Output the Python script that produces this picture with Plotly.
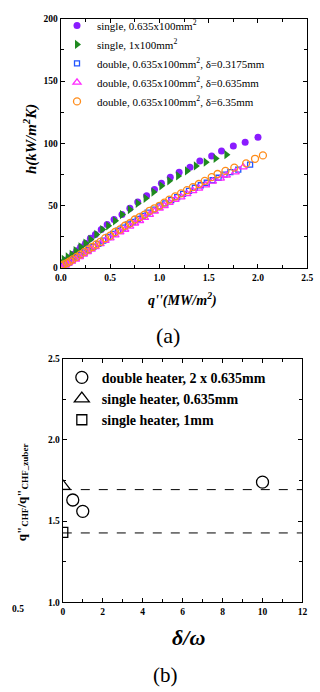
import plotly.graph_objects as go

# ---------------- (a) data ----------------
q_single_0635 = [0.02,0.05,0.08,0.12,0.16,0.20,0.25,0.30,0.35,0.41,0.47,0.54,0.62,0.70,0.78,0.87,0.95,1.02,1.11,1.20,1.31,1.41,1.53,1.63,1.75,1.87,2.00]
h_single_0635 = [4,6,8,11,14,17,20,24,27,31,35,39,43,48,53,58,63,68,73,77,81,86,90,94,98,101,105]

q_single_1 = [0.00,0.03,0.07,0.11,0.15,0.20,0.25,0.30,0.36,0.42,0.48,0.55,0.62,0.70,0.78,0.86,0.94,1.02,1.10,1.19,1.28,1.37,1.47,1.57,1.68]
h_single_1 = [5,7,9,11,14,17,20,23,27,31,34,38,43,47,52,56,61,66,70,74,78,82,85,88,91]

q_d03175 = [0.02,0.05,0.08,0.12,0.16,0.20,0.24,0.28,0.33,0.38,0.43,0.48,0.53,0.58,0.63,0.68,0.73,0.78,0.83,0.88,0.94,1.00,1.06,1.12,1.18,1.24,1.30,1.36,1.42,1.48,1.54,1.60,1.66,1.72,1.80,1.92]
h_d03175 = [1.5,3,4.5,6.5,8.5,10.5,12.5,14.5,17,19.5,22,25,27.5,30,32.5,35,37,39.5,42,44.5,47,49.5,52,54.5,57,59.5,62,64.5,66.5,68.5,70.5,72.5,75,77,79,83]

q_d0635 = [0.02,0.05,0.08,0.11,0.15,0.19,0.23,0.27,0.31,0.35,0.40,0.45,0.50,0.55,0.60,0.65,0.70,0.75,0.80,0.85,0.90,0.95,1.00,1.05,1.10,1.16,1.22,1.28,1.34,1.40,1.47,1.54,1.62,1.68,1.77,1.85]
h_d0635 = [1,2.5,4,5.5,7,9,11,13,15,17,19.5,22,24,26.5,29,31,33.5,36,38,40.5,43,45.5,48,50,52.5,55,57,59.5,62,64,66.6,69.6,72,74.5,77,81]

q_d635 = [0.01,0.03,0.06,0.09,0.12,0.16,0.20,0.24,0.28,0.32,0.36,0.40,0.45,0.50,0.55,0.60,0.65,0.70,0.75,0.80,0.85,0.90,0.95,1.00,1.05,1.10,1.16,1.22,1.28,1.34,1.40,1.46,1.53,1.59,1.67,1.76,1.88,1.97,2.05]
h_d635 = [2,3,4,5.5,7,9,11,13,15,17,19,21,24,26,29,31,34,36,39,41,43,46,48,50,52.5,55,57.5,60,62.5,65,67.5,70,73,75.5,78,80.6,84,87.7,90.4]

# ---------------- (b) data ----------------
dw_double = [0.5, 1.0, 10.0]
r_double = [1.63, 1.56, 1.74]
dw_single0635 = [0.0]
r_single0635 = [1.715]
dw_single1 = [0.0]
r_single1 = [1.43]
ref_levels = [1.694, 1.427]

SERIF = "Liberation Serif"
W, H = 320, 692

def px(xp):  # pixel x -> paper fraction
    return xp / W

def py(yp):  # pixel y (from top) -> paper fraction
    return 1 - yp / H

fig = go.Figure()

def add(x, y, name, symbol, color, size, filled, legend):
    fig.add_trace(go.Scatter(
        x=x, y=y, mode="markers", name=name, legend=legend,
        xaxis="x" if legend == "legend" else "x2",
        yaxis="y" if legend == "legend" else "y2",
        marker=dict(symbol=symbol, size=size, color=color,
                    line=dict(color=color, width=0 if filled else 1.3))))

add(q_single_0635, h_single_0635, "single, 0.635x100mm<sup>2</sup>", "circle", "#8a1cff", 7, True, "legend")
add(q_single_1, h_single_1, "single, 1x100mm<sup>2</sup>", "triangle-right", "#1f8a1f", 8, True, "legend")
add(q_d03175, h_d03175, "double, 0.635x100mm<sup>2</sup>, δ=0.3175mm", "square-open", "#2255ff", 5, False, "legend")
add(q_d0635, h_d0635, "double, 0.635x100mm<sup>2</sup>, δ=0.635mm", "triangle-up-open", "#ff2bff", 7, False, "legend")
add(q_d635, h_d635, "double, 0.635x100mm<sup>2</sup>, δ=6.35mm", "circle-open", "#ff8c1a", 7, False, "legend")

for lv in ref_levels:
    fig.add_trace(go.Scatter(x=[0, 12], y=[lv, lv], mode="lines", showlegend=False,
                             xaxis="x2", yaxis="y2", hoverinfo="skip",
                             line=dict(color="black", width=1, dash="dash")))

add(dw_double, r_double, "double heater, 2 x 0.635mm", "circle-open", "black", 12, False, "legend2")
add(dw_single0635, r_single0635, "single heater, 0.635mm", "triangle-up-open", "black", 13, False, "legend2")
add(dw_single1, r_single1, "single heater, 1mm", "square-open", "black", 10, False, "legend2")

axis_common = dict(showline=True, linecolor="black", linewidth=1.2, mirror="ticks",
                   ticks="inside", ticklen=4, tickcolor="black", showgrid=False,
                   zeroline=False,
                   tickfont=dict(family=SERIF, size=9.5, color="black", weight="bold"))

fig.update_layout(
    width=W, height=H, margin=dict(l=0, r=0, t=0, b=0),
    paper_bgcolor="white", plot_bgcolor="white",
    xaxis=dict(domain=[px(57), px(313)], range=[0, 2.5], dtick=0.5, tickformat=".1f",
               minor=dict(dtick=0.25, ticks="inside", ticklen=3, tickcolor="black"),
               anchor="y", **axis_common),
    yaxis=dict(domain=[py(267), py(14)], range=[0, 200], dtick=50,
               minor=dict(dtick=25, ticks="inside", ticklen=3, tickcolor="black"),
               anchor="x", **axis_common),
    xaxis2=dict(domain=[px(59), px(308)], range=[0, 12], dtick=2,
                minor=dict(dtick=1, ticks="inside", ticklen=3, tickcolor="black"),
                anchor="y2", **axis_common),
    yaxis2=dict(domain=[py(606), py(359)], range=[1.0, 2.5], dtick=0.5, tickformat=".1f",
                minor=dict(dtick=0.25, ticks="inside", ticklen=3, tickcolor="black"),
                anchor="x2", **axis_common),
    legend=dict(x=px(53), y=py(6), xanchor="left", yanchor="top", bgcolor="rgba(0,0,0,0)",
                font=dict(family=SERIF, size=11, color="black"), tracegroupgap=0),
    legend2=dict(x=px(58), y=py(362), xanchor="left", yanchor="top", bgcolor="rgba(0,0,0,0)",
                 font=dict(family=SERIF, size=14, color="black", weight="bold"), tracegroupgap=0),
    showlegend=True,
)

ann = [
    dict(text="<b><i>h(kW/m<sup>2</sup>K)</i></b>", x=25, y=136, textangle=-90, size=15),
    dict(text="<b><i>q''(MW/m<sup>2</sup>)</i></b>", x=183, y=299, textangle=0, size=14),
    dict(text="(a)", x=168, y=335, textangle=0, size=22),
    dict(text="<b>q\"<sub>CHF</sub>/q\"<sub>CHF_zuber</sub></b>", x=17, y=494, textangle=-90, size=13),
    dict(text="<b>0.5</b>", x=12, y=613, textangle=0, size=9.5),
    dict(text="<b><i>δ/ω</i></b>", x=190, y=642, textangle=0, size=22),
    dict(text="(b)", x=166, y=680, textangle=0, size=21),
]
for a in ann:
    fig.add_annotation(text=a["text"], x=px(a["x"]), y=py(a["y"]), xref="paper", yref="paper",
                       xanchor="center", yanchor="middle", showarrow=False, textangle=a["textangle"],
                       font=dict(family=SERIF, size=a["size"], color="black"))

fig.write_html("out.html", config={"displayModeBar": False},
               post_script="document.body.style.margin='0';document.body.style.overflow='hidden';")
